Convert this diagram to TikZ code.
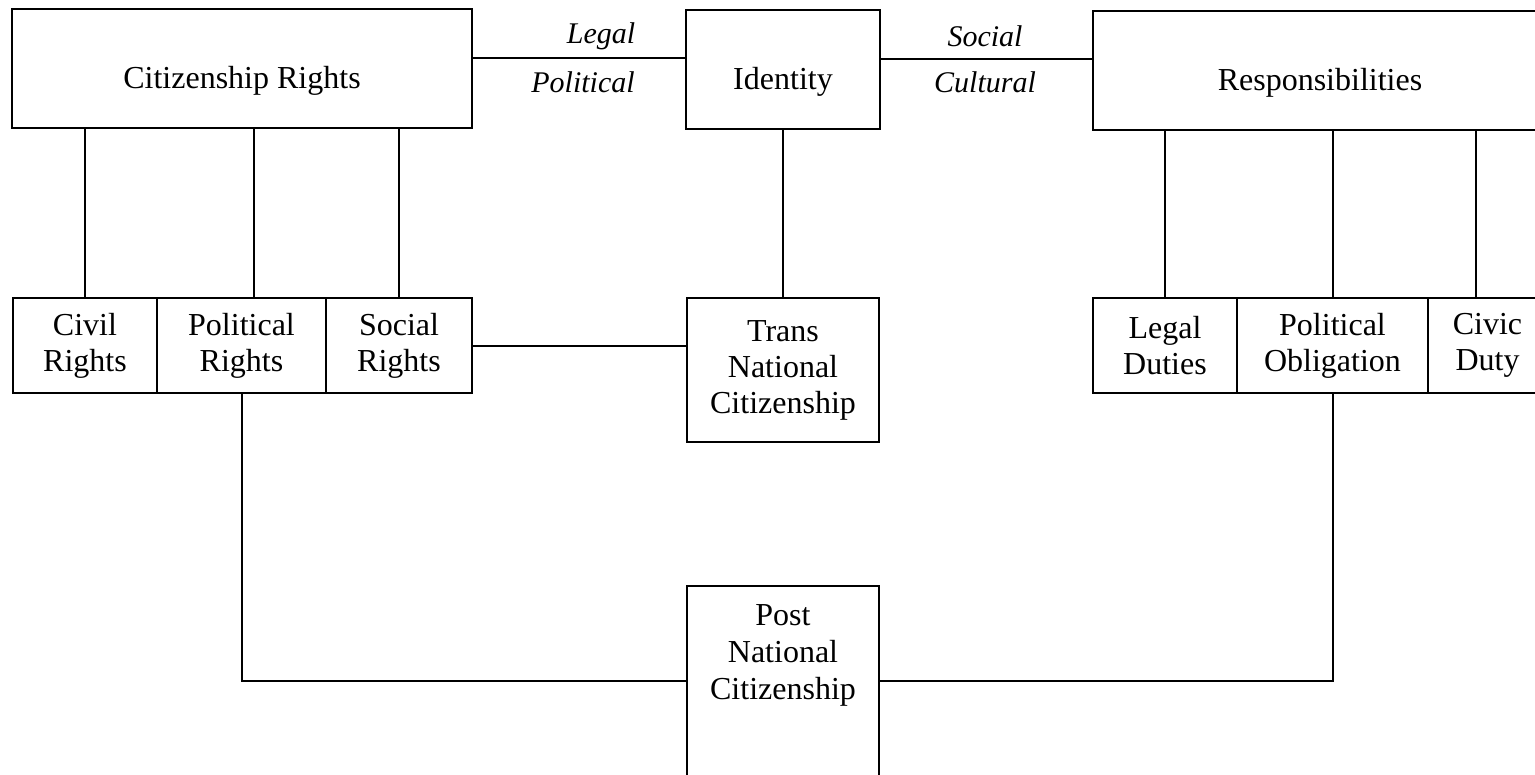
\documentclass[tikz,border=0pt]{standalone}
\usepackage{fontspec}
\setmainfont{Liberation Serif}
\usetikzlibrary{positioning,calc}

\begin{document}
\begin{tikzpicture}[x=0.5pt,y=-0.5pt,line width=1pt,
  topbox/.style={draw,anchor=north,inner sep=0pt,text height=40pt,text depth=19.5pt,
    font=\fontsize{16}{18}\selectfont},
  rowbox/.style={draw,anchor=north,inner sep=0pt,minimum height=47.5pt,align=center,
    font=\fontsize{16}{18}\selectfont},
  tag/.style={font=\fontsize{15}{18}\selectfont\itshape,inner sep=0pt}]
  \useasboundingbox (0,0) rectangle (1535,775);

  % top row
  \node[topbox,minimum width=230pt] (cr)   at (242,8)    {Citizenship Rights};
  \node[topbox,minimum width=97pt]  (id)   at (783,9)    {Identity};
  \node[topbox,minimum width=227pt] (resp) at (1320,10)  {Responsibilities};

  % rights and duties
  \foreach \n/\x/\w/\t in {civil/85/72/{Civil\\Rights},polr/241.5/84.5/{Political\\Rights},
      socr/399/73/{Social\\Rights},legal/1165/72/{Legal\\Duties},
      oblig/1332.5/95.5/{Political\\Obligation},civic/1487.5/59.5/{Civic\\Duty}}
    \node[rowbox,minimum width=\w pt] (\n) at (\x,297) {\t};

  \node[rowbox,minimum width=96pt,minimum height=72pt] (trans) at (783,297)
    {Trans\\National\\Citizenship};
  \node[draw,anchor=north,inner sep=0pt,minimum width=96pt,align=center,
    text height=56.5pt,text depth=51pt,font=\fontsize{16}{18.5}\selectfont] (post) at (783,585)
    {Post\\National\\Citizenship};

  % labels
  \node[tag] (legalt) at (601,36) {Legal};
  \node[tag] (polt)   at (583,82) {Political};
  \node[tag] (soct)   at (985,36) {Social};
  \node[tag] (cultt)  at (985,82) {Cultural};

  % connectors
  \draw ([yshift=5pt]cr.east) -- ([yshift=5pt]cr.east -| id.west);
  \draw ([yshift=5pt]id.east) -- ([yshift=5pt]id.east -| resp.west);
  \foreach \n in {civil,socr} \draw (\n.north) -- (\n.north |- cr.south);
  \draw ([xshift=6.25pt]polr.north) -- ([xshift=6.25pt]polr.north |- cr.south);
  \foreach \n in {legal,oblig} \draw (\n.north) -- (\n.north |- resp.south);
  \draw ([xshift=-5.75pt]civic.north) -- ([xshift=-5.75pt]civic.north |- resp.south);
  \draw (id.south) -- (trans.north);
  \draw (socr.east) -- (socr.east -| trans.west);
  \draw (polr.south) |- ([yshift=-48pt]post.north west);
  \draw (oblig.south) |- ([yshift=-48pt]post.north east);

\end{tikzpicture}
\end{document}
